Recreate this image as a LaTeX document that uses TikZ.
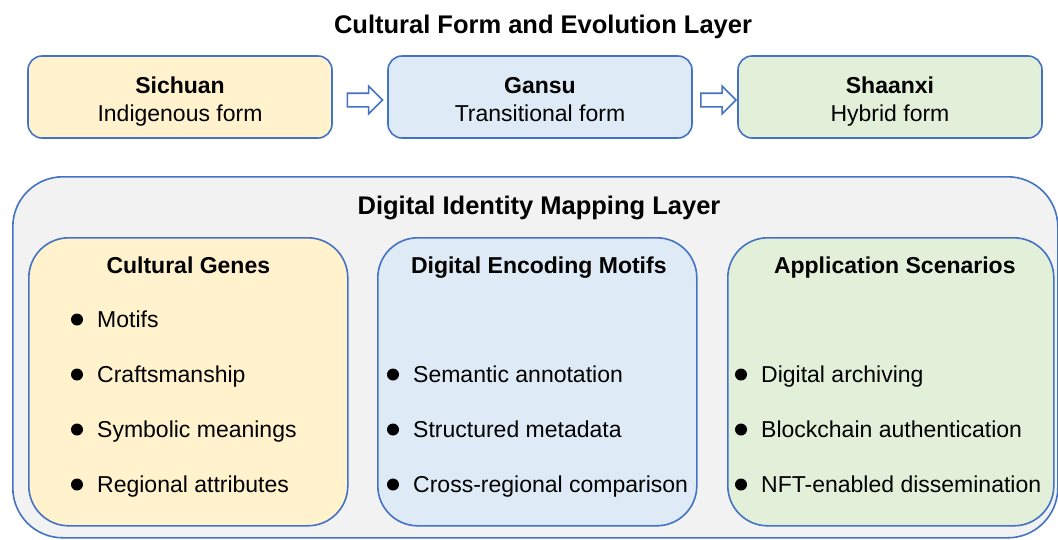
\documentclass[tikz,border=0pt]{standalone}
\usepackage{fontspec}
\setmainfont{Liberation Sans}
\usetikzlibrary{shapes.arrows,calc}
\definecolor{edgeblue}{HTML}{4472C4}
\definecolor{genefill}{HTML}{FFF2CC}
\definecolor{codefill}{HTML}{DEEBF7}
\definecolor{usefill}{HTML}{E2F0D9}
\definecolor{layerfill}{HTML}{F2F2F2}
\tikzset{
  formbox/.style={draw=edgeblue, line width=1.6pt, rounded corners=14pt, minimum width=304pt, minimum height=82pt},
  partbox/.style={draw=edgeblue, line width=1.6pt, rounded corners=40pt, minimum height=288pt, anchor=north west},
  bodytext/.style={inner sep=0pt, anchor=base, font=\fontsize{23}{27}\selectfont},
  headtext/.style={inner sep=0pt, anchor=base, font=\fontsize{23}{27}\selectfont\bfseries},
  titletext/.style={inner sep=0pt, anchor=base, font=\fontsize{25.5}{30}\selectfont\bfseries},
  itemtext/.style={bodytext, anchor=base west},
  hollowarrow/.style={single arrow, draw=edgeblue, fill=white, line width=1.6pt, inner xsep=0pt, inner ysep=6pt, text height=0pt, text depth=0pt, minimum height=35pt, single arrow head extend=7pt, single arrow head indent=0pt}
}
\begin{document}
\begin{tikzpicture}[x=1pt,y=-1pt]
\useasboundingbox (0,0) rectangle (1058,539);
\node[titletext] (formTitle) at (543,33) {Cultural Form and Evolution Layer};
\node[formbox, fill=genefill] (sichuan) at (180,97) {};
\node[formbox, fill=codefill] (gansu) at (540,97) {};
\node[formbox, fill=usefill] (shaanxi) at (890,97) {};
\node[headtext] (sichuanName) at ([yshift=4pt]sichuan.center) {Sichuan};
\node[bodytext] (sichuanForm) at ([yshift=-24pt]sichuan.center) {Indigenous form};
\node[headtext] (gansuName) at ([yshift=4pt]gansu.center) {Gansu};
\node[bodytext] (gansuForm) at ([yshift=-24pt]gansu.center) {Transitional form};
\node[headtext] (shaanxiName) at ([yshift=4pt]shaanxi.center) {Shaanxi};
\node[bodytext] (shaanxiForm) at ([yshift=-24pt]shaanxi.center) {Hybrid form};
\node[hollowarrow] (arr1) at ($(sichuan.east)!0.5!(gansu.west)+(1.5,3)$) {};
\node[hollowarrow] (arr2) at ($(gansu.east)!0.5!(shaanxi.west)+(0,3)$) {};
\node[draw=edgeblue, line width=1.6pt, fill=layerfill, rounded corners=50pt, minimum width=1045pt, minimum height=361pt, anchor=north west] (mapping) at (12,176) {};
\node[titletext] (mappingTitle) at (539,214) {Digital Identity Mapping Layer};
\node[partbox, fill=genefill, minimum width=319pt] (genes) at (28,237) {};
\node[partbox, fill=codefill, minimum width=319pt] (motifs) at (377,237) {};
\node[partbox, fill=usefill, minimum width=326pt] (scenes) at (727,237) {};
\node[headtext] (genesTitle) at ([yshift=-36pt]genes.north) {Cultural Genes};
\node[headtext] (motifsTitle) at ([xshift=1.5pt,yshift=-36pt]motifs.north) {Digital Encoding Motifs};
\node[headtext] (scenesTitle) at ([xshift=4pt,yshift=-36pt]scenes.north) {Application Scenarios};
\foreach \t [count=\i] in {Motifs, Craftsmanship, Symbolic meanings, Regional attributes} {
  \fill (77,{319.5+55*(\i-1)}) circle (6pt);
  \node[itemtext] (gene\i) at (97,{327+55*(\i-1)}) {\t};
}
\foreach \t [count=\i] in {Semantic annotation, Structured metadata, Cross-regional comparison} {
  \fill (393,{374.5+55*(\i-1)}) circle (6pt);
  \node[itemtext] (motif\i) at (413,{382+55*(\i-1)}) {\t};
}
\foreach \t [count=\i] in {Digital archiving, Blockchain authentication, NFT-enabled dissemination} {
  \fill (741,{374.5+55*(\i-1)}) circle (6pt);
  \node[itemtext] (scene\i) at (761,{382+55*(\i-1)}) {\t};
}
\end{tikzpicture}
\end{document}
